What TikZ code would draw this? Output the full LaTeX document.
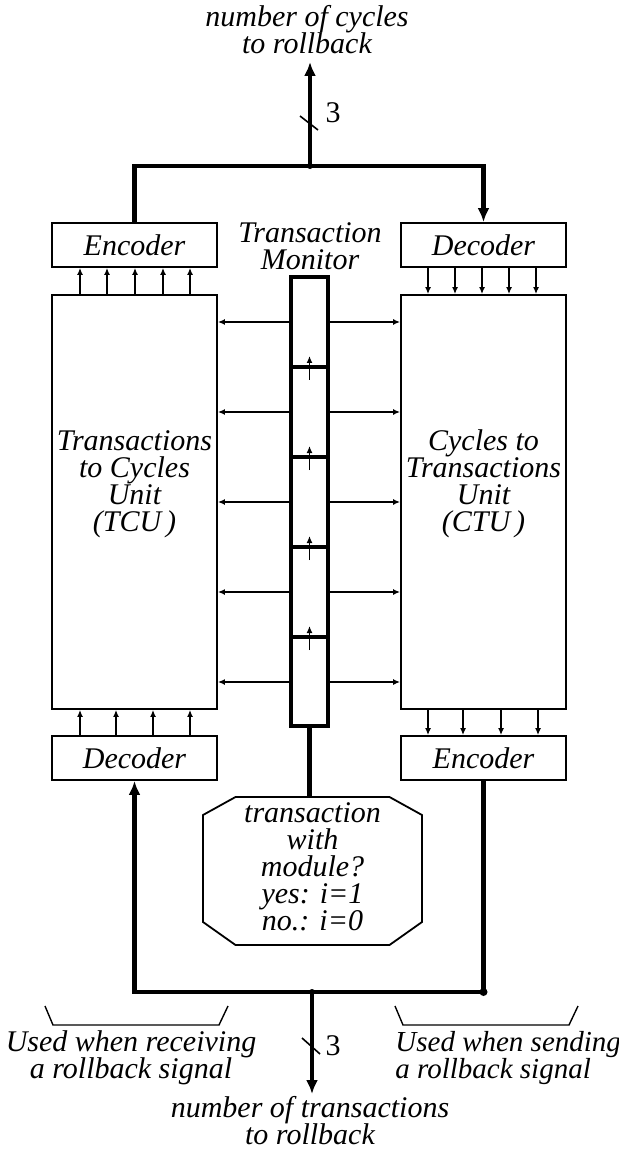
\documentclass[tikz,border=0pt]{standalone}
\usepackage{fontspec}
\setmainfont{Liberation Serif}
\usetikzlibrary{arrows.meta,calc}
\setlength{\lineskiplimit}{-20pt}

\begin{document}
\begin{tikzpicture}[x=0.5pt,y=-0.5pt,>={Latex[length=3.5pt,width=3pt]},
  every node/.style={font=\fontsize{15}{13.5}\selectfont\itshape,inner sep=1pt},
  lbl/.style={align=center,font=\fontsize{15}{13.5}\selectfont\itshape},
  codebox/.style={draw,line width=0.9pt,minimum width=82.5pt,minimum height=22pt,inner sep=0pt},
  unitbox/.style={draw,line width=0.9pt,minimum width=82.5pt,minimum height=207pt,inner sep=0pt},
  bus/.style={line width=2.2pt},
  busarrow/.style={bus,-{Latex[length=7pt,width=6pt]}},
  wire/.style={line width=1.2pt,->},
  tap/.style={line width=1pt,->}]
  \useasboundingbox (0,0) rectangle (619,1154);

  % coders and units
  \node[codebox] (enc1) at (134.5,245) {Encoder};
  \node[codebox] (dec1) at (483.5,245) {Decoder};
  \node[unitbox] (tcu) at (134.5,502) {};
  \node[unitbox] (ctu) at (483.5,502) {};
  \node[codebox] (dec2) at (134.5,758) {Decoder};
  \node[codebox] (enc2) at (483.5,758) {Encoder};
  \node[align=center] (tcutxt) at (134.5,484) {Transactions\\to Cycles\\Unit\\(TCU\,)};
  \node[align=center] (ctutxt) at (483.5,484) {Cycles to\\Transactions\\Unit\\(CTU\,)};

  % transaction monitor
  \node[draw,line width=1.6pt,minimum width=18.5pt,minimum height=224.5pt,inner sep=0pt] (mon) at (309.5,501.5) {};
  \node[lbl] (monlbl) at (310,246) {Transaction\\Monitor};
  \foreach \y in {322,412,502,592,682} {
    \draw[tap] (mon.west |- 0,\y) -- (tcu.east |- 0,\y);
    \draw[tap] (mon.east |- 0,\y) -- (ctu.west |- 0,\y);
  }
  \foreach \y in {367,457,547,637} {
    \draw[line width=1.6pt] (mon.west |- 0,\y) -- (mon.east |- 0,\y);
    \draw[line width=0.8pt,->] (mon.center |- 0,\y+13) -- (mon.center |- 0,\y-11);
  }

  % parallel lines between units and coders
  \foreach \x in {80,107,135,163,190}
    \draw[wire] (\x,0 |- tcu.north) -- (\x,0 |- enc1.south);
  \foreach \x in {428,455,482,509,536}
    \draw[wire] (\x,0 |- dec1.south) -- (\x,0 |- ctu.north);
  \foreach \x in {80,116,153,190}
    \draw[wire] (\x,0 |- dec2.north) -- (\x,0 |- tcu.south);
  \foreach \x in {428,463,501,538}
    \draw[wire] (\x,0 |- ctu.south) -- (\x,0 |- enc2.north);

  % top bus
  \node[lbl,anchor=south,inner ysep=4pt] (cyc) at (307,62) {number of cycles\\to rollback};
  \coordinate (top) at (310,166);
  \draw[bus] (enc1.north) |- (top);
  \draw[busarrow] (top) -| (dec1.north);
  \draw[busarrow] (top) -- (top |- cyc.south);
  \fill (top) circle (3);
  \draw[line width=0.8pt] ($(top)+(-10,-50)$) -- ($(top)+(8,-36)$);
  \node[font=\fontsize{15}{15}\selectfont] (w1) at (333,113) {3};

  % query box
  \coordinate (oct) at (312.5,871);
  \node[align=center,font=\fontsize{15}{13.5}\selectfont\itshape] (qry) at (312.5,867)
    {transaction\\with\\module?\\yes: i=1\\no.: i=0};
  \draw[line width=0.9pt] ($(oct)+(-77,-74)$) -- ($(oct)+(77,-74)$) -- ($(oct)+(109.5,-56)$)
    -- ($(oct)+(109.5,51)$) -- ($(oct)+(77,74)$) -- ($(oct)+(-77,74)$)
    -- ($(oct)+(-109.5,51)$) -- ($(oct)+(-109.5,-56)$) -- cycle;
  \draw[bus] (mon.south) -- (mon.south |- 0,797);

  % bottom bus
  \node[lbl,anchor=north] (trn) at (310,1094) {number of transactions\\to rollback};
  \coordinate (bot) at (312,992);
  \draw[bus] (enc2.south) |- (bot);
  \draw[busarrow] (bot) -| (dec2.south);
  \draw[busarrow] (bot) -- (bot |- trn.north);
  \fill (bot) circle (3);
  \fill (enc2.south |- bot) circle (4);
  \draw[line width=0.8pt] ($(bot)+(-10,46)$) -- ($(bot)+(8,62)$);
  \node[font=\fontsize{15}{15}\selectfont] (w2) at (333,1046) {3};

  % braces
  \draw[line width=0.7pt] (45,1006) -- (53,1025) -- (219,1025) -- (228,1006);
  \draw[line width=0.7pt] (395,1006) -- (403,1025) -- (569,1025) -- (578,1006);
  \node[lbl] (rcv) at (131,1058) {Used when receiving\\a rollback signal};
  \node[lbl,align=left,anchor=west,font=\fontsize{14.5}{13.5}\selectfont\itshape] (snd) at (393,1058) {Used when sending\\a rollback signal};
\end{tikzpicture}
\end{document}
